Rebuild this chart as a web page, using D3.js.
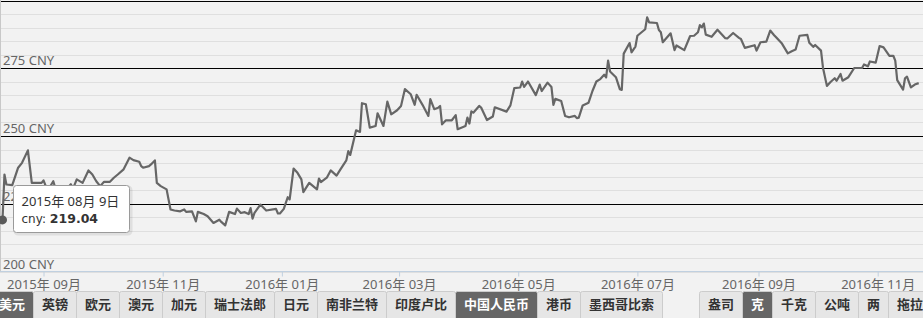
<!DOCTYPE html>
<html>
<head>
<meta charset="utf-8">
<script src="https://cdn.jsdelivr.net/npm/d3@7"></script>
<style>
  body { margin: 0; background: #f2f2f2; }
  svg { display: block; }
  .lbl { font-family: "Noto Sans", "Noto Sans CJK SC", sans-serif; font-size: 13px; fill: #666; }
  .btn { font-family: "Noto Sans CJK SC", sans-serif; font-size: 13px; font-weight: bold; }
</style>
</head>
<body>
<div id="chart"></div>
<script>
// gold price, CNY per gram
var dates = [
  "2015-08-11","2015-08-12","2015-08-13","2015-08-16","2015-08-19","2015-08-21","2015-08-24","2015-08-26","2015-08-28","2015-08-31",
  "2015-09-01","2015-09-03","2015-09-04","2015-09-06","2015-09-07","2015-09-09","2015-09-10","2015-09-12","2015-09-15","2015-09-16",
  "2015-09-18","2015-09-21","2015-09-24","2015-09-26","2015-09-28","2015-09-30","2015-10-02","2015-10-05","2015-10-07","2015-10-09",
  "2015-10-12","2015-10-15","2015-10-17","2015-10-20","2015-10-21","2015-10-22","2015-10-25","2015-10-26","2015-10-28","2015-10-29",
  "2015-10-31","2015-11-03","2015-11-05","2015-11-07","2015-11-10","2015-11-12","2015-11-13","2015-11-16","2015-11-18","2015-11-19",
  "2015-11-22","2015-11-24","2015-11-27","2015-11-30","2015-12-01","2015-12-03","2015-12-05","2015-12-08","2015-12-09","2015-12-11",
  "2015-12-13","2015-12-15","2015-12-16","2015-12-17","2015-12-18","2015-12-21","2015-12-24","2015-12-29","2015-12-30","2015-12-31",
  "2016-01-02","2016-01-04","2016-01-05","2016-01-07","2016-01-09","2016-01-11","2016-01-12","2016-01-15","2016-01-19","2016-01-20",
  "2016-01-21","2016-01-24","2016-01-26","2016-01-29","2016-01-31","2016-02-03","2016-02-04","2016-02-05","2016-02-08","2016-02-10",
  "2016-02-11","2016-02-13","2016-02-15","2016-02-18","2016-02-19","2016-02-22","2016-02-24","2016-02-26","2016-02-29","2016-03-02",
  "2016-03-04","2016-03-07","2016-03-09","2016-03-10","2016-03-13","2016-03-16","2016-03-17","2016-03-19","2016-03-21","2016-03-22",
  "2016-03-23","2016-03-25","2016-03-28","2016-03-30","2016-03-31","2016-04-04","2016-04-05","2016-04-06","2016-04-07","2016-04-08",
  "2016-04-11","2016-04-12","2016-04-15","2016-04-18","2016-04-19","2016-04-25","2016-04-27","2016-04-29","2016-05-02","2016-05-03",
  "2016-05-04","2016-05-06","2016-05-10","2016-05-12","2016-05-13","2016-05-16","2016-05-18","2016-05-19","2016-05-20","2016-05-23",
  "2016-05-25","2016-05-27","2016-05-30","2016-05-31","2016-06-01","2016-06-03","2016-06-06","2016-06-08","2016-06-10","2016-06-12",
  "2016-06-14","2016-06-15","2016-06-16","2016-06-17","2016-06-20","2016-06-22","2016-06-23","2016-06-24","2016-06-27","2016-06-28",
  "2016-06-30","2016-07-01","2016-07-05","2016-07-06","2016-07-07","2016-07-11","2016-07-12","2016-07-13","2016-07-14","2016-07-18",
  "2016-07-20","2016-07-21","2016-07-25","2016-07-28","2016-07-30","2016-08-01","2016-08-02","2016-08-03","2016-08-04","2016-08-05",
  "2016-08-08","2016-08-11","2016-08-15","2016-08-16","2016-08-19","2016-08-22","2016-08-23","2016-08-25","2016-08-30","2016-08-31",
  "2016-09-02","2016-09-05","2016-09-07","2016-09-09","2016-09-10","2016-09-13","2016-09-16","2016-09-18","2016-09-20","2016-09-22",
  "2016-09-26","2016-09-27","2016-09-29","2016-09-30","2016-10-03","2016-10-04","2016-10-06","2016-10-08","2016-10-10","2016-10-11",
  "2016-10-13","2016-10-14","2016-10-17","2016-10-20","2016-10-24","2016-10-25","2016-10-27","2016-10-28","2016-10-31","2016-11-02",
  "2016-11-04","2016-11-07","2016-11-09","2016-11-10","2016-11-11","2016-11-14","2016-11-15","2016-11-16","2016-11-18","2016-11-20",
  "2016-11-22"
];
var cny = [
  219.04,235.8,232.1,231.9,238.3,240.1,244.7,232.7,232.7,232.7,
  233.6,229.9,230.9,233.3,230.9,229.0,230.9,229.6,232.2,230.4,
  234.0,232.7,237.3,235.8,233.3,231.5,233.1,233.1,234.6,235.8,
  237.7,242.0,241.1,240.5,238.9,238.3,238.9,239.5,241.0,232.7,
  231.5,230.3,222.9,222.5,222.2,222.9,222.0,222.2,218.5,222.0,
  221.2,220.4,217.9,219.1,218.3,217.0,222.0,221.2,223.2,221.6,
  221.9,221.2,223.4,219.5,221.6,224.7,222.5,223.1,221.4,221.4,
  223.1,227.4,226.6,238.0,236.4,234.0,229.3,232.7,230.3,234.3,
  233.0,234.6,237.3,235.4,237.7,241.0,244.4,243.0,252.1,251.5,
  262.1,261.7,253.1,253.7,258.4,253.7,262.7,258.0,259.5,261.1,
  267.3,265.4,261.5,265.2,261.5,257.4,263.6,259.9,260.4,261.1,
  254.3,255.8,255.8,257.7,252.5,253.7,256.8,254.6,259.1,258.6,
  261.1,260.5,255.9,257.2,260.6,259.0,261.3,267.7,267.9,270.1,
  268.1,270.1,265.1,269.0,266.6,269.7,268.1,261.5,263.7,262.9,
  257.4,256.9,257.4,256.6,256.8,261.3,262.3,266.6,270.1,271.0,
  272.6,271.6,277.8,273.8,271.7,267.3,267.0,280.4,284.3,280.9,
  283.0,287.0,289.4,293.8,291.9,291.7,289.1,288.3,284.6,287.9,
  281.7,283.4,281.7,286.9,287.0,288.3,290.9,290.1,291.5,287.4,
  286.6,289.2,286.1,286.0,288.0,286.2,285.8,282.5,283.5,281.5,
  284.6,284.8,288.9,287.2,286.4,284.1,280.5,281.3,281.9,287.0,
  287.3,284.4,282.9,283.6,281.5,275.2,268.5,270.0,271.3,270.4,
  272.9,270.4,271.7,275.1,275.1,276.4,275.7,277.5,277.1,283.2,
  282.7,279.6,279.6,277.8,270.6,267.1,271.3,271.9,267.9,269.0,
  269.5
];
var yTicks = [200, 225, 250, 275, 300];
var currencies = ["美元","英镑","欧元","澳元","加元","瑞士法郎","日元","南非兰特","印度卢比","中国人民币","港币","墨西哥比索"];
var units = ["盎司","克","千克","公吨","两","拖拉"];
var selected = ["美元","中国人民币","克"];
var tipDate = "2015年 08月 9日";

var W = 923, H = 318;
var parse = d3.timeParse("%Y-%m-%d");
var data = dates.map(function (d, i) { return { date: parse(d), v: cny[i] }; });

var x = d3.scaleTime()
  .domain([parse("2015-08-11"), parse("2016-11-22")])
  .range([2.5, 918.7]);
var y = d3.scaleLinear().domain([200, 300]).range([271.5, 0.5]);

var svg = d3.select("#chart").append("svg").attr("width", W).attr("height", H);

// minor grid
svg.append("g").selectAll("line").data(y.ticks(20)).enter().append("line")
  .attr("x1", 0).attr("x2", W)
  .attr("y1", function (d) { return Math.round(y(d)) + 0.5; })
  .attr("y2", function (d) { return Math.round(y(d)) + 0.5; })
  .attr("stroke", "#dfdfdf");

// major lines
svg.append("g").selectAll("line").data(yTicks.slice(1)).enter().append("line")
  .attr("x1", 0).attr("x2", W)
  .attr("y1", function (d) { return Math.round(y(d)) + 0.5; })
  .attr("y2", function (d) { return Math.round(y(d)) + 0.5; })
  .attr("stroke", "#000");

svg.append("line").attr("x1", 0.5).attr("x2", 0.5).attr("y1", 0).attr("y2", 271)
  .attr("stroke", "#c8c8c8");

// y labels
svg.append("g").selectAll("text").data(yTicks.slice(0, 4)).enter().append("text")
  .attr("class", "lbl")
  .attr("x", 3).attr("y", function (d) { return Math.round(y(d)) - 3; })
  .text(function (d) { return d + " CNY"; });

// x axis
var xAxis = d3.axisBottom(x)
  .ticks(d3.timeMonth.every(2))
  .tickFormat(d3.timeFormat("%Y年 %m月"))
  .tickSize(5).tickPadding(3);
var gx = svg.append("g").attr("transform", "translate(0,271.5)").call(xAxis);
gx.select(".domain").remove();
gx.selectAll(".tick line").attr("stroke", "#c0d0e0");
gx.selectAll(".tick text").attr("class", "lbl").attr("fill", null).attr("font-family", null).attr("font-size", null);
svg.append("line").attr("x1", 0).attr("x2", W).attr("y1", 271.5).attr("y2", 271.5).attr("stroke", "#c0d0e0");

// series
var line = d3.line().x(function (d) { return x(d.date); }).y(function (d) { return y(d.v); });
svg.append("path").datum(data)
  .attr("d", line)
  .attr("fill", "none")
  .attr("stroke", "#666")
  .attr("stroke-width", 2.2)
  .attr("stroke-linejoin", "round");

svg.append("circle")
  .attr("cx", x(data[0].date)).attr("cy", y(data[0].v)).attr("r", 4.5)
  .attr("fill", "#5a5a5a");

// tooltip
var tip = svg.append("g").attr("transform", "translate(13.5,185.5)");
tip.append("rect").attr("x", 1.5).attr("y", 1.5).attr("width", 116).attr("height", 47).attr("rx", 3)
  .attr("fill", "none").attr("stroke", "#000").attr("stroke-opacity", 0.08).attr("stroke-width", 3);
tip.append("rect").attr("width", 116).attr("height", 47).attr("rx", 3)
  .attr("fill", "#fff").attr("stroke", "#9a9a9a");
tip.append("text").attr("x", 8).attr("y", 20)
  .style("font-family", "'Noto Sans', 'Noto Sans CJK SC', sans-serif").style("font-size", "13px").attr("fill", "#333")
  .text(tipDate);
var t2 = tip.append("text").attr("x", 8).attr("y", 37)
  .style("font-family", "'DejaVu Sans', sans-serif").attr("fill", "#333");
t2.append("tspan").style("font-size", "12px").text("cny: ");
t2.append("tspan").style("font-size", "12.5px").style("font-weight", "bold").text(d3.format(".2f")(data[0].v));

// button rows
function buttons(labels, x0) {
  var g = svg.append("g");
  var pos = x0;
  labels.forEach(function (l) {
    var w = l.length * 13 + 17;
    var on = selected.indexOf(l) >= 0;
    g.append("rect").attr("x", pos + 0.5).attr("y", 291.5).attr("width", w).attr("height", 32)
      .attr("rx", 2).attr("fill", on ? "#666" : "#e6e6e6").attr("stroke", "#cccccc");
    g.append("text").attr("class", "btn")
      .attr("x", pos + w / 2 + 0.5).attr("y", 309).attr("text-anchor", "middle")
      .attr("fill", on ? "#fff" : "#333").text(l);
    pos += w;
  });
}
buttons(currencies, -10);
buttons(units, 699);
</script>
</body>
</html>
